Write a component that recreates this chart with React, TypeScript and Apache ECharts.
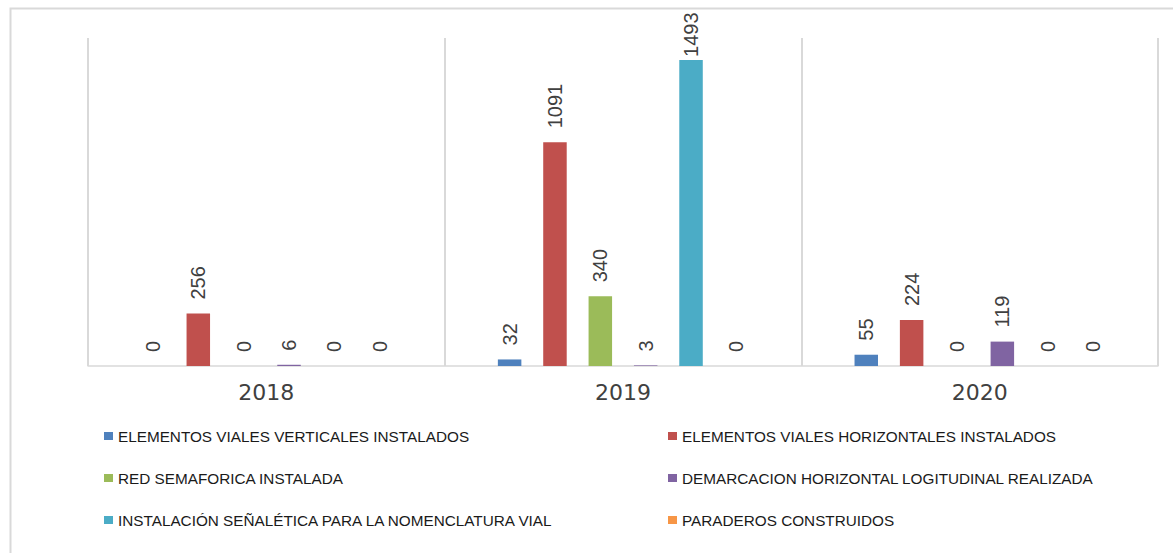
import React, { useEffect, useRef } from "react";
import * as echarts from "echarts";

const years = ["2018", "2019", "2020"];
const seriesNames = [
  "ELEMENTOS VIALES VERTICALES INSTALADOS",
  "ELEMENTOS VIALES HORIZONTALES INSTALADOS",
  "RED SEMAFORICA INSTALADA",
  "DEMARCACION HORIZONTAL LOGITUDINAL REALIZADA",
  "INSTALACIÓN SEÑALÉTICA PARA LA NOMENCLATURA VIAL",
  "PARADEROS CONSTRUIDOS",
];
const verticales = [0, 32, 55];
const horizontales = [256, 1091, 224];
const semaforica = [0, 340, 0];
const demarcacion = [6, 3, 119];
const senaletica = [0, 1493, 0];
const paraderos = [0, 0, 0];
const seriesValues = [verticales, horizontales, semaforica, demarcacion, senaletica, paraderos];
const colors = ["#4F81BD", "#C0504D", "#9BBB59", "#8064A2", "#4BACC6", "#F79646"];

export default function App() {
  const ref = useRef<HTMLDivElement>(null);
  useEffect(() => {
    if (!ref.current) return;
    const chart = echarts.init(ref.current, undefined, { renderer: "svg" });
    const yMax = 1600;
    const series = seriesValues.map((vals, i) => ({
      name: seriesNames[i],
      type: "bar",
      barWidth: 23.5,
      barGap: "93%",
      itemStyle: { color: colors[i] },
      label: {
        show: true,
        position: "top",
        rotate: 90,
        align: "left",
        verticalAlign: "middle",
        distance: 14,
        fontFamily: "Liberation Sans",
        fontSize: 20,
        color: "#404040",
      },
      data: vals.map((v) =>
        v > yMax * 0.9 ? { value: v, label: { distance: 3 } } : v
      ),
    }));
    const legendCommon = {
      orient: "vertical",
      icon: "rect",
      padding: 0,
      itemWidth: 9,
      itemHeight: 8,
      itemGap: 22,
      textStyle: {
        fontFamily: "Liberation Sans",
        fontSize: 15.3,
        color: "#1a1a1a",
        lineHeight: 20,
      },
      selectedMode: false,
    };
    chart.setOption({
      animation: false,
      backgroundColor: "#ffffff",
      grid: { left: 88, right: 15, top: 38, bottom: 187, containLabel: false },
      xAxis: {
        type: "category",
        data: years,
        axisLine: { lineStyle: { color: "#d9d9d9", width: 1.5 } },
        axisTick: { show: false },
        splitLine: { show: true, lineStyle: { color: "#d9d9d9", width: 2 } },
        axisLabel: {
          fontFamily: "DejaVu Sans",
          fontSize: 22,
          color: "#404040",
          margin: 15,
        },
      },
      yAxis: {
        type: "value",
        min: 0,
        max: yMax,
        show: false,
        splitLine: { show: false },
      },
      legend: [
        {
          ...legendCommon,
          left: 104,
          top: 426,
          data: [seriesNames[0], seriesNames[2], seriesNames[4]],
        },
        {
          ...legendCommon,
          left: 668,
          top: 426,
          data: [seriesNames[1], seriesNames[3], seriesNames[5]],
        },
      ],
      graphic: [
        {
          type: "rect",
          left: 8,
          top: 6,
          shape: { x: 0, y: 0, width: 1200, height: 600 },
          style: { fill: "none", stroke: "#d9d9d9", lineWidth: 2 },
          silent: true,
        },
      ],
      series,
    });
    return () => chart.dispose();
  }, []);
  return (
    <div
      ref={ref}
      style={{ position: "absolute", left: 0, top: 0, width: 1173, height: 553 }}
    />
  );
}
